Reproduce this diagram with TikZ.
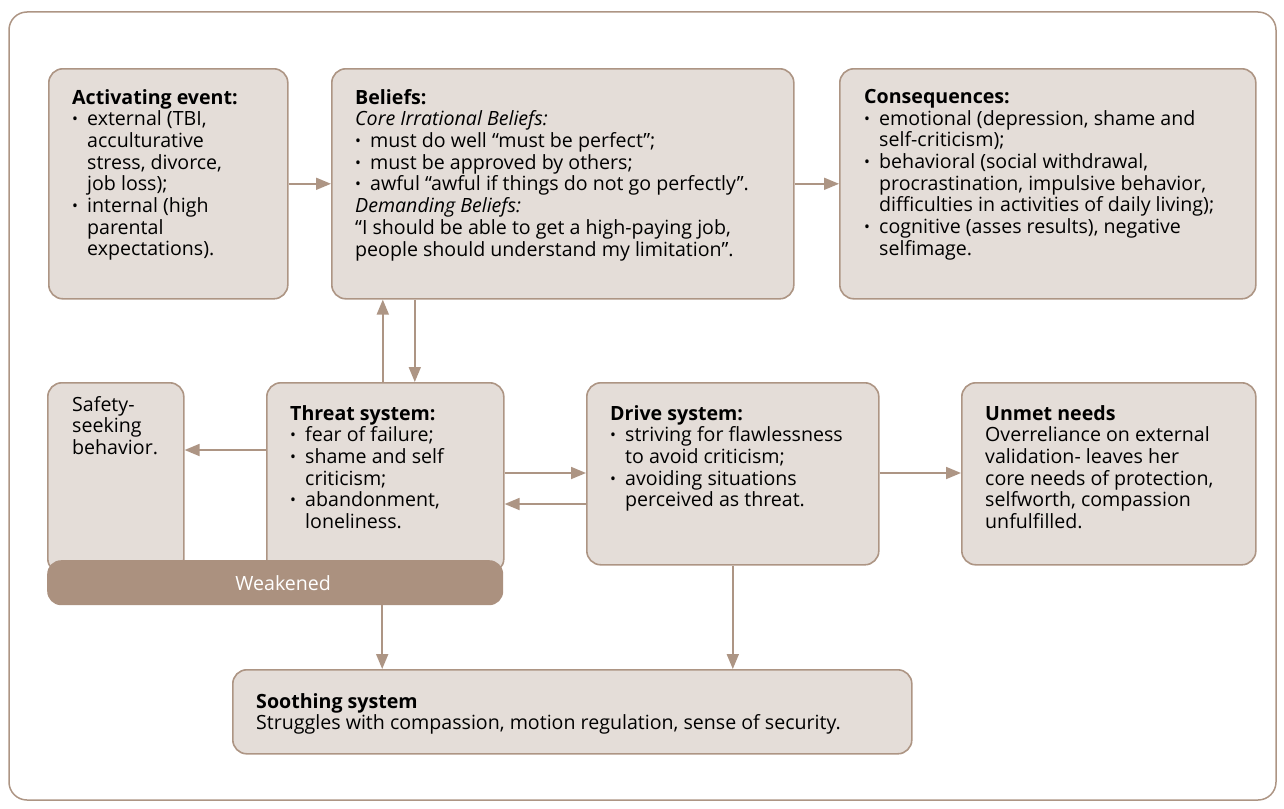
\documentclass[tikz,border=0pt]{standalone}
\usepackage{fontspec}
\setmainfont{Open Sans}
\usetikzlibrary{arrows.meta}

\definecolor{boxfill}{HTML}{E4DDD8}
\definecolor{boxline}{HTML}{AD9584}
\definecolor{barfill}{HTML}{AB917F}

\newcommand{\bl}{\makebox[15pt][l]{\raisebox{0.1ex}{\scalebox{0.8}{\textbullet}}}}
\newcommand{\ind}{\hspace*{15pt}}

\begin{document}
\begin{tikzpicture}[x=1pt, y=-1pt,
	box/.style={draw=boxline, fill=boxfill, line width=1.6pt, rounded corners=14pt, anchor=north west, inner sep=0pt},
	txt/.style={anchor=north west, inner sep=0pt, align=left, font=\fontsize{19.6}{21.7}\selectfont},
	arr/.style={draw=boxline, line width=1.8pt, -{Triangle[length=15pt,width=12pt]}}]
		\useasboundingbox (0,0) rectangle (1284,808);
		\draw[boxline, line width=1.5pt, rounded corners=18pt] (9,12) rectangle (1276,800);

		% top row
		\node[box, minimum width=239pt, minimum height=230pt] (act) at (48,68) {};
		\node[box, minimum width=462pt, minimum height=230pt] (bel) at (331,68) {};
		\node[box, minimum width=416pt, minimum height=230pt] (cons) at (839,68) {};

		% middle row
		\node[box, minimum width=136pt, minimum height=190pt] (safe) at (47,382) {};
		\node[box, minimum width=237pt, minimum height=190pt] (threat) at (266,382) {};
		\node[box, minimum width=292pt, minimum height=182pt] (drive) at (586,382) {};
		\node[box, minimum width=294pt, minimum height=182pt] (unmet) at (961,382) {};
		\node[fill=barfill, rounded corners=14pt, minimum width=456pt, minimum height=45pt, anchor=north west, inner sep=0pt] (weak) at (47,560) {};
		\node[txt, anchor=center, text=white] (weaktxt) at ([xshift=8pt]weak.center) {Weakened};

		% bottom
		\node[box, minimum width=679pt, minimum height=84pt] (sooth) at (232,669) {};

		\node[txt] (acttxt) at ([shift={(24pt,-21pt)}]act.north west) {\textbf{Activating event:}\\
			\bl external (TBI,\\ \ind acculturative\\ \ind stress, divorce,\\ \ind job loss);\\
			\bl internal (high\\ \ind parental\\ \ind expectations).};
		\node[txt] (beltxt) at ([shift={(24pt,-21pt)}]bel.north west) {\textbf{Beliefs:}\\
			\textit{Core Irrational Beliefs:}\\
			\bl must do well “must be perfect”;\\
			\bl must be approved by others;\\
			\bl awful “awful if things do not go perfectly”.\\
			\textit{Demanding Beliefs:}\\
			“I should be able to get a high-paying job,\\
			people should understand my limitation”.};
		\node[txt] (constxt) at ([shift={(25pt,-21pt)}]cons.north west) {\textbf{Consequences:}\\
			\bl emotional (depression, shame and\\ \ind self-criticism);\\
			\bl behavioral (social withdrawal,\\ \ind procrastination, impulsive behavior,\\ \ind difficulties in activities of daily living);\\
			\bl cognitive (asses results), negative\\ \ind selfimage.};
		\node[txt] (safetxt) at ([shift={(25pt,-14pt)}]safe.north west) {Safety-\\ seeking\\ behavior.};
		\node[txt] (threattxt) at ([shift={(24pt,-23pt)}]threat.north west) {\textbf{Threat system:}\\
			\bl fear of failure;\\
			\bl shame and self\\ \ind criticism;\\
			\bl abandonment,\\ \ind loneliness.};
		\node[txt] (drivetxt) at ([shift={(24pt,-23pt)}]drive.north west) {\textbf{Drive system:}\\
			\bl striving for flawlessness\\ \ind to avoid criticism;\\
			\bl avoiding situations\\ \ind perceived as threat.};
		\node[txt] (unmettxt) at ([shift={(24pt,-23pt)}]unmet.north west) {\textbf{Unmet needs}\\
			Overreliance on external\\ validation- leaves her\\ core needs of protection,\\ selfworth, compassion\\ unfulfilled.};
		\node[txt] (soothtxt) at ([shift={(24pt,-24pt)}]sooth.north west) {\textbf{Soothing system}\\
			Struggles with compassion, motion regulation, sense of security.};

		% connectors
		\draw[arr] (act.east) -- (bel.west);
		\draw[arr] (bel.east) -- (cons.west);
		\draw[arr] ([xshift=-2.5pt]threat.north) -- ([xshift=-2.5pt]threat.north |- bel.south);
		\draw[arr] ([xshift=29.5pt]threat.north |- bel.south) -- ([xshift=29.5pt]threat.north);
		\draw[arr] ([yshift=-68pt]threat.north west) -- ([yshift=-68pt]threat.north west -| safe.east);
		\draw[arr] ([yshift=-91pt]threat.north east) -- ([yshift=-91pt]threat.north east -| drive.west);
		\draw[arr] ([yshift=-122pt]drive.north west) -- ([yshift=-122pt]drive.north west -| threat.east);
		\draw[arr] ([yshift=-91pt]drive.north east) -- ([yshift=-91pt]drive.north east -| unmet.west);
		\draw[arr] ([xshift=107pt]weak.south) -- ([xshift=107pt]weak.south |- sooth.north);
		\draw[arr] (drive.south) -- (drive.south |- sooth.north);
\end{tikzpicture}
\end{document}
